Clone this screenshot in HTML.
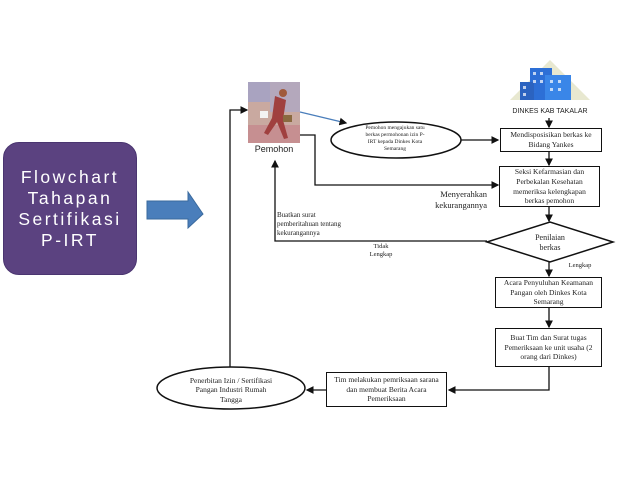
<!DOCTYPE html>
<html><head><meta charset="utf-8"><style>
body{margin:0;background:#fff;width:638px;height:479px;overflow:hidden;position:relative;font-family:"Liberation Serif",serif}
.t{position:absolute;text-align:center;color:#222;line-height:1.25}
.box{position:absolute;border:1.5px solid #111;box-sizing:border-box;display:flex;align-items:center;justify-content:center;text-align:center;font-size:7.5px;line-height:1.3;color:#222;padding:1px 5px}
</style></head><body>
<div style="position:absolute;left:3px;top:142px;width:134px;height:133px;background:#5b4280;border-radius:16px;border:1px solid #4a3570;box-sizing:border-box;display:flex;align-items:center;justify-content:center;text-align:center;color:#fff;font-family:'Liberation Sans',sans-serif;font-size:17.5px;letter-spacing:2.5px;line-height:1.2">Flowchart<br>Tahapan<br>Sertifikasi<br>P-IRT</div>
<svg width="638" height="479" style="position:absolute;left:0;top:0">
<defs><marker id="a" markerWidth="6" markerHeight="6" refX="5" refY="3" orient="auto"><path d="M0,0L6,3L0,6z" fill="#111"/></marker></defs>
<path d="M147,201H188V192L203,214L188,228V219H147Z" fill="#4a7ebb" stroke="#3a6a9e"/>
<rect x="248" y="82" width="52" height="61" fill="#c9a9a0"/>
<rect x="248" y="82" width="52" height="20" fill="#a9a3c0"/>
<rect x="270" y="82" width="30" height="30" fill="#b4a8bc"/>
<rect x="248" y="125" width="52" height="18" fill="#c68f91"/>
<path d="M275,96 L286,100 L283,120 L288,138 L284,139 L277,122 L268,135 L264,133 L272,118 Z" fill="#a0403f"/>
<circle cx="283" cy="93" r="4" fill="#a05a3a"/>
<rect x="283" y="115" width="9" height="7" fill="#8a6a40"/>
<rect x="260" y="111" width="8" height="7" fill="#f3f3f3"/>
<path d="M510,100L550,60L590,100Z" fill="#e8e8d0"/>
<rect x="530" y="68" width="22" height="32" fill="#2d6fd6"/>
<rect x="545" y="75" width="26" height="25" fill="#3a86e8"/>
<rect x="520" y="82" width="14" height="18" fill="#2b63c0"/>
<g fill="#fff" opacity=".7"><rect x="533" y="72" width="3" height="3"/><rect x="540" y="72" width="3" height="3"/><rect x="533" y="80" width="3" height="3"/><rect x="540" y="80" width="3" height="3"/><rect x="550" y="80" width="3" height="3"/><rect x="558" y="80" width="3" height="3"/><rect x="550" y="88" width="3" height="3"/><rect x="558" y="88" width="3" height="3"/><rect x="523" y="86" width="3" height="3"/><rect x="523" y="93" width="3" height="3"/></g>
<g stroke="#111" stroke-width="1.3" fill="none">
<line x1="300" y1="112" x2="346" y2="123" stroke="#4a7ebb" marker-end="url(#a)"/>
<ellipse cx="396" cy="140" rx="65" ry="18" stroke-width="1.5"/>
<line x1="461" y1="140" x2="498" y2="140" marker-end="url(#a)"/>
<line x1="549" y1="118" x2="549" y2="127" marker-end="url(#a)"/>
<line x1="549" y1="152" x2="549" y2="165" marker-end="url(#a)"/>
<polyline points="300,135 315,135 315,185 498,185" marker-end="url(#a)"/>
<line x1="549" y1="207" x2="549" y2="221" marker-end="url(#a)"/>
<path d="M487,242L550,222L613,242L550,262Z" stroke-width="1.5"/>
<polyline points="487,241 275,241 275,161" marker-end="url(#a)"/>
<line x1="549" y1="262" x2="549" y2="276" marker-end="url(#a)"/>
<line x1="549" y1="308" x2="549" y2="327" marker-end="url(#a)"/>
<polyline points="549,367 549,390 449,390" marker-end="url(#a)"/>
<line x1="326" y1="390" x2="307" y2="390" marker-end="url(#a)"/>
<ellipse cx="231" cy="388" rx="74" ry="21" stroke-width="1.5"/>
<polyline points="230,367 230,110 247,110" marker-end="url(#a)"/>
</g>
</svg>
<div class="t" style="left:244px;top:144px;width:60px;font-family:'Liberation Sans',sans-serif;font-size:9px">Pemohon</div>
<div class="t" style="left:505px;top:108px;width:90px;font-family:'Liberation Sans',sans-serif;font-size:7px">DINKES KAB TAKALAR</div>
<div class="t" style="left:362px;top:125px;width:66px;font-size:5.5px">Pemohon mengajukan satu berkas permohonan izin P-IRT kepada Dinkes Kota Semarang</div>
<div class="box" style="left:500px;top:128px;width:102px;height:24px;padding:1px 8px">Mendisposisikan berkas ke Bidang Yankes</div>
<div class="box" style="left:499px;top:166px;width:101px;height:41px;padding:1px 8px">Seksi Kefarmasian dan Perbekalan Kesehatan memeriksa kelengkapan berkas pemohon</div>
<div class="t" style="left:405px;top:189px;width:82px;font-size:8.5px;text-align:right">Menyerahkan kekurangannya</div>
<div class="t" style="left:277px;top:211px;width:74px;font-size:7px;text-align:left">Buatkan surat pemberitahuan tentang kekurangannya</div>
<div class="t" style="left:366px;top:243px;width:30px;font-size:6.5px">Tidak Lengkap</div>
<div class="t" style="left:525px;top:233px;width:50px;font-size:8px">Penilaian berkas</div>
<div class="t" style="left:560px;top:262px;width:40px;font-size:6.5px">Lengkap</div>
<div class="box" style="left:495px;top:277px;width:107px;height:31px;padding:1px 3px">Acara Penyuluhan Keamanan Pangan oleh Dinkes Kota Semarang</div>
<div class="box" style="left:495px;top:328px;width:107px;height:39px;padding:1px 8px">Buat Tim dan Surat tugas Pemeriksaan ke unit usaha (2 orang dari Dinkes)</div>
<div class="box" style="left:326px;top:372px;width:121px;height:35px;padding:1px 4px">Tim melakukan pemriksaan sarana dan membuat Berita Acara Pemeriksaan</div>
<div class="t" style="left:186px;top:376px;width:90px;font-size:7.5px">Penerbitan Izin / Sertifikasi Pangan Industri Rumah Tangga</div>
</body></html>
